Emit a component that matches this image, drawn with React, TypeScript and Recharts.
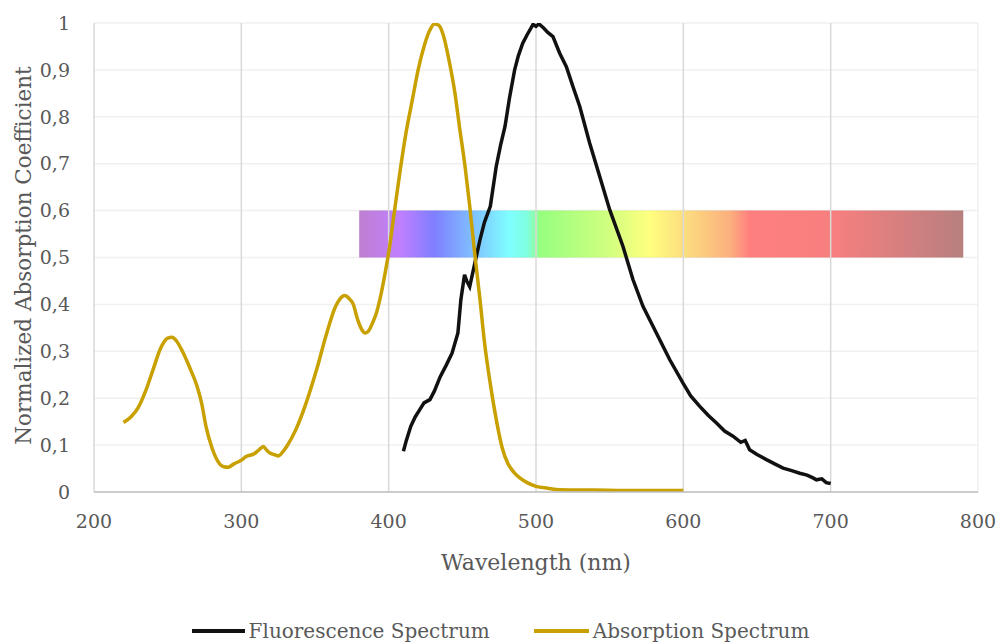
import React from 'react';
import { LineChart, Line, XAxis, YAxis, CartesianGrid, ReferenceArea, ReferenceLine, Label } from 'recharts';

// Absorption spectrum (wavelength nm, normalized value)
const absWavelength = [
  220, 225, 230, 235, 240, 245, 250, 253, 256, 260, 265, 270, 273, 276, 280, 284, 288, 291, 295,
  300, 303, 309, 312, 315, 317, 319, 322, 325, 328, 331, 337, 344, 351, 358, 364, 367, 370, 373,
  376, 379, 382, 384, 386, 389, 392, 394, 398, 400, 404, 408, 412, 416, 420, 424, 428, 431, 434,
  437, 441, 445, 448, 452, 455, 458, 462, 465, 469, 473, 477, 481, 485, 489, 494, 500, 508, 516,
  540, 570, 600,
];
const absValue = [
  0.148, 0.16, 0.18, 0.215, 0.26, 0.305, 0.328, 0.33, 0.322, 0.3, 0.265, 0.225, 0.19, 0.14, 0.095,
  0.066, 0.054, 0.053, 0.06, 0.068, 0.075, 0.082, 0.09, 0.097, 0.09, 0.084, 0.08, 0.077, 0.085,
  0.098, 0.133, 0.19, 0.26, 0.339, 0.396, 0.412, 0.419, 0.413, 0.4, 0.367, 0.345, 0.339, 0.342,
  0.36, 0.385, 0.41, 0.474, 0.51, 0.6, 0.69, 0.77, 0.835, 0.9, 0.95, 0.985, 0.998, 0.995, 0.975,
  0.92, 0.85, 0.78, 0.69, 0.61, 0.52, 0.41, 0.32, 0.23, 0.155, 0.095, 0.06, 0.042, 0.03, 0.02,
  0.012, 0.008, 0.005, 0.004, 0.003, 0.003,
];

// Fluorescence spectrum (wavelength nm, normalized value)
const fluoWavelength = [
  410, 412, 415, 418, 421, 424, 428, 431, 435, 439, 443, 447, 449, 451.5, 453, 455, 458, 462, 465,
  469, 473, 476, 479, 482, 485.5, 488, 491, 494, 498, 500, 502, 505, 508, 511.5, 516, 520.6, 525,
  529.7, 536.4, 543.2, 550, 559, 565.8, 572.6, 581.7, 590.8, 599.8, 605, 611, 617, 622.5, 628,
  633.7, 639, 642, 645, 650, 656.4, 662, 667.7, 673, 679, 684, 688, 690.3, 694, 697, 700,
];
const fluoValue = [
  0.087, 0.11, 0.14, 0.16, 0.175, 0.19, 0.197, 0.215, 0.246, 0.27, 0.296, 0.339, 0.41, 0.463, 0.45,
  0.438, 0.481, 0.538, 0.575, 0.609, 0.694, 0.74, 0.78, 0.84, 0.9, 0.93, 0.957, 0.975, 0.997, 0.993,
  0.998, 0.99, 0.98, 0.971, 0.936, 0.907, 0.865, 0.822, 0.744, 0.673, 0.602, 0.524, 0.453, 0.396,
  0.339, 0.282, 0.232, 0.205, 0.183, 0.163, 0.147, 0.13, 0.119, 0.106, 0.11, 0.09, 0.08, 0.069,
  0.06, 0.051, 0.046, 0.04, 0.036, 0.03, 0.026, 0.028, 0.02, 0.018,
];

const xTicks = [200, 300, 400, 500, 600, 700, 800];
const xGridMajor = [200, 300, 400, 500, 600, 700];
const yTicks = [0, 0.1, 0.2, 0.3, 0.4, 0.5, 0.6, 0.7, 0.8, 0.9, 1];

// Visible-spectrum colour band
const bandStart = 380;
const bandEnd = 790;
const bandLow = 0.5;
const bandHigh = 0.6;
const bandStopsNm = [380, 408, 431, 457, 482, 494, 503, 548, 577, 605, 632, 645, 702, 790];
const bandStopsColor = [
  '#8000a0', '#8000ff', '#0000ff', '#0080ff', '#00ffff', '#00ffc0', '#30ff00', '#a0ff00',
  '#ffff00', '#f8b000', '#f86000', '#ff0000', '#f00000', '#700000',
];

const absData = absWavelength.map((x, i) => ({ x, y: absValue[i] }));
const fluoData = fluoWavelength.map((x, i) => ({ x, y: fluoValue[i] }));

const FONT = 'DejaVu Serif';
const TXT = '#595959';
const GOLD = '#c8a000';

const fmtY = (v: number) => (v === 0 ? '0' : v === 1 ? '1' : v.toFixed(1).replace('.', ','));

export default function App() {
  return (
    <div style={{ position: 'absolute', left: 0, top: 0, width: 1001, height: 644, background: '#fff' }}>
      <LineChart width={1001} height={644} margin={{ top: 23, right: 23, left: 0, bottom: 92 }}>
        <defs>
          <linearGradient id="spectrum" x1="0" y1="0" x2="1" y2="0">
            {bandStopsNm.map((nm, i) => (
              <stop key={i} offset={(nm - bandStart) / (bandEnd - bandStart)} stopColor={bandStopsColor[i]} />
            ))}
          </linearGradient>
        </defs>
        <CartesianGrid horizontal={true} vertical={false} stroke="#f0f0f0" strokeWidth={1.5} />
        {xGridMajor.map((v) => (
          <ReferenceLine key={v} x={v} stroke="#d9d9d9" strokeWidth={1.5} />
        ))}
        <ReferenceLine x={800} stroke="#f0f0f0" strokeWidth={1.5} />
        <XAxis
          type="number"
          dataKey="x"
          domain={[200, 800]}
          ticks={xTicks}
          height={60}
          tickLine={false}
          tickSize={0}
          tickMargin={23}
          axisLine={{ stroke: '#bfbfbf', strokeWidth: 1.5 }}
          tick={{ fill: TXT, fontFamily: FONT, fontSize: 19 }}
          allowDataOverflow
        >
          <Label
            content={({ viewBox }: any) => (
              <text
                x={viewBox.x + viewBox.width / 2}
                y={570}
                textAnchor="middle"
                fill={TXT}
                fontFamily={FONT}
                fontSize={22}
              >
                Wavelength (nm)
              </text>
            )}
          />
        </XAxis>
        <YAxis
          type="number"
          domain={[0, 1]}
          ticks={yTicks}
          width={94}
          tickLine={false}
          tickSize={0}
          tickMargin={24}
          axisLine={false}
          tickFormatter={fmtY}
          tick={{ fill: TXT, fontFamily: FONT, fontSize: 19 }}
          allowDataOverflow
        >
          <Label
            content={({ viewBox }: any) => {
              const cy = viewBox.y + viewBox.height / 2 - 2;
              return (
                <text
                  x={31}
                  y={cy}
                  transform={`rotate(-90, 31, ${cy})`}
                  textAnchor="middle"
                  fill={TXT}
                  fontFamily={FONT}
                  fontSize={21.5}
                >
                  Normalized Absorption Coefficient
                </text>
              );
            }}
          />
        </YAxis>
        <ReferenceArea
          x1={bandStart}
          x2={bandEnd}
          y1={bandLow}
          y2={bandHigh}
          fill="url(#spectrum)"
          fillOpacity={0.5}
          stroke="none"
        />
        <Line
          data={fluoData}
          dataKey="y"
          type="linear"
          stroke="#111111"
          strokeWidth={3.5}
          dot={false}
          activeDot={false}
          isAnimationActive={false}
          name="Fluorescence Spectrum"
        />
        <Line
          data={absData}
          dataKey="y"
          type="monotone"
          stroke={GOLD}
          strokeWidth={3.5}
          dot={false}
          activeDot={false}
          isAnimationActive={false}
          name="Absorption Spectrum"
        />
      </LineChart>
      <div
        style={{
          position: 'absolute',
          left: 0,
          top: 617,
          width: 1001,
          display: 'flex',
          justifyContent: 'center',
          fontFamily: FONT,
          fontSize: 20,
          color: TXT,
          lineHeight: '28px',
        }}
      >
        <div style={{ display: 'flex', alignItems: 'center', marginRight: 44 }}>
          <div style={{ width: 53, height: 4, background: '#111', marginRight: 4 }} />
          <span>Fluorescence Spectrum</span>
        </div>
        <div style={{ display: 'flex', alignItems: 'center' }}>
          <div style={{ width: 55, height: 4, background: GOLD, marginRight: 4 }} />
          <span>Absorption Spectrum</span>
        </div>
      </div>
    </div>
  );
}
